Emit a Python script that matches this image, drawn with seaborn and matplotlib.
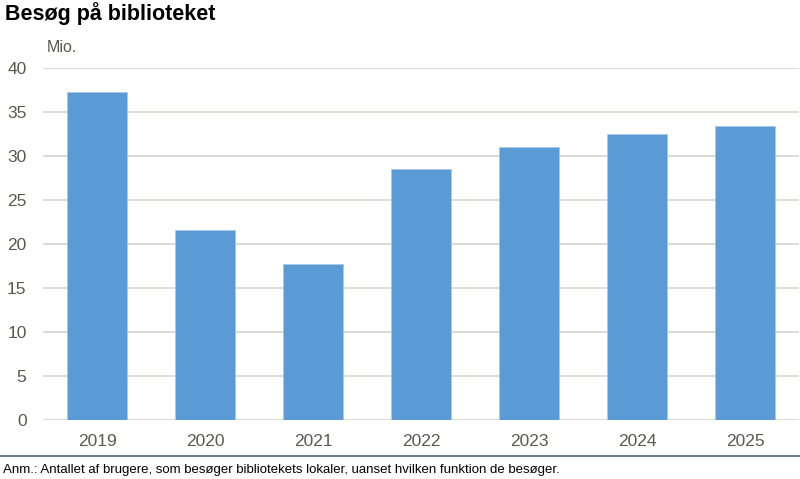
import pandas as pd
import matplotlib.pyplot as plt
import seaborn as sns
from matplotlib.lines import Line2D

# data
years = ["2019", "2020", "2021", "2022", "2023", "2024", "2025"]
visits = [37.3, 21.6, 17.7, 28.5, 31.0, 32.5, 33.4]
yticks = [0, 5, 10, 15, 20, 25, 30, 35, 40]

df = pd.DataFrame({"year": years, "visits": visits})

sns.set_theme(style="white")
plt.rcParams["font.family"] = ["Liberation Sans", "DejaVu Sans"]

fig = plt.figure(figsize=(8, 4.79), dpi=100)
ax = fig.add_axes([0.054, 0.123, 0.945, 0.735])

sns.barplot(data=df, x="year", y="visits", color="#5b9bd5", saturation=1,
            width=0.556, edgecolor="#a9c8ea", linewidth=0.6, ax=ax, zorder=3)

ax.set_ylim(0, 40)
ax.set_yticks(yticks)
ax.set_xlim(-0.5, len(years) - 0.5)
ax.grid(axis="y", color="#d6d6cc", linewidth=1.2, zorder=0)
for s in ax.spines.values():
    s.set_visible(False)
ax.set_xlabel("")
ax.set_ylabel("")
ax.tick_params(axis="both", length=0, labelsize=12.5, labelcolor="#595950")
ax.tick_params(axis="x", pad=10)
ax.tick_params(axis="y", pad=12)

fig.text(0.006, 0.972, "Besøg på biblioteket", fontsize=15.5, fontweight="bold",
         color="black", va="center", ha="left")
fig.text(0.058, 0.9, "Mio.", fontsize=11.5, color="#595950", va="center", ha="left")

fig.add_artist(Line2D([0, 1], [1 - 456 / 479, 1 - 456 / 479], color="#4d6275",
                      linewidth=1.2, transform=fig.transFigure))
fig.text(0.004, 1 - 470 / 479, "Anm.: Antallet af brugere, som besøger bibliotekets lokaler, "
         "uanset hvilken funktion de besøger.", fontsize=9.5, color="black",
         va="center", ha="left")

fig.savefig("out.png", dpi=100)
